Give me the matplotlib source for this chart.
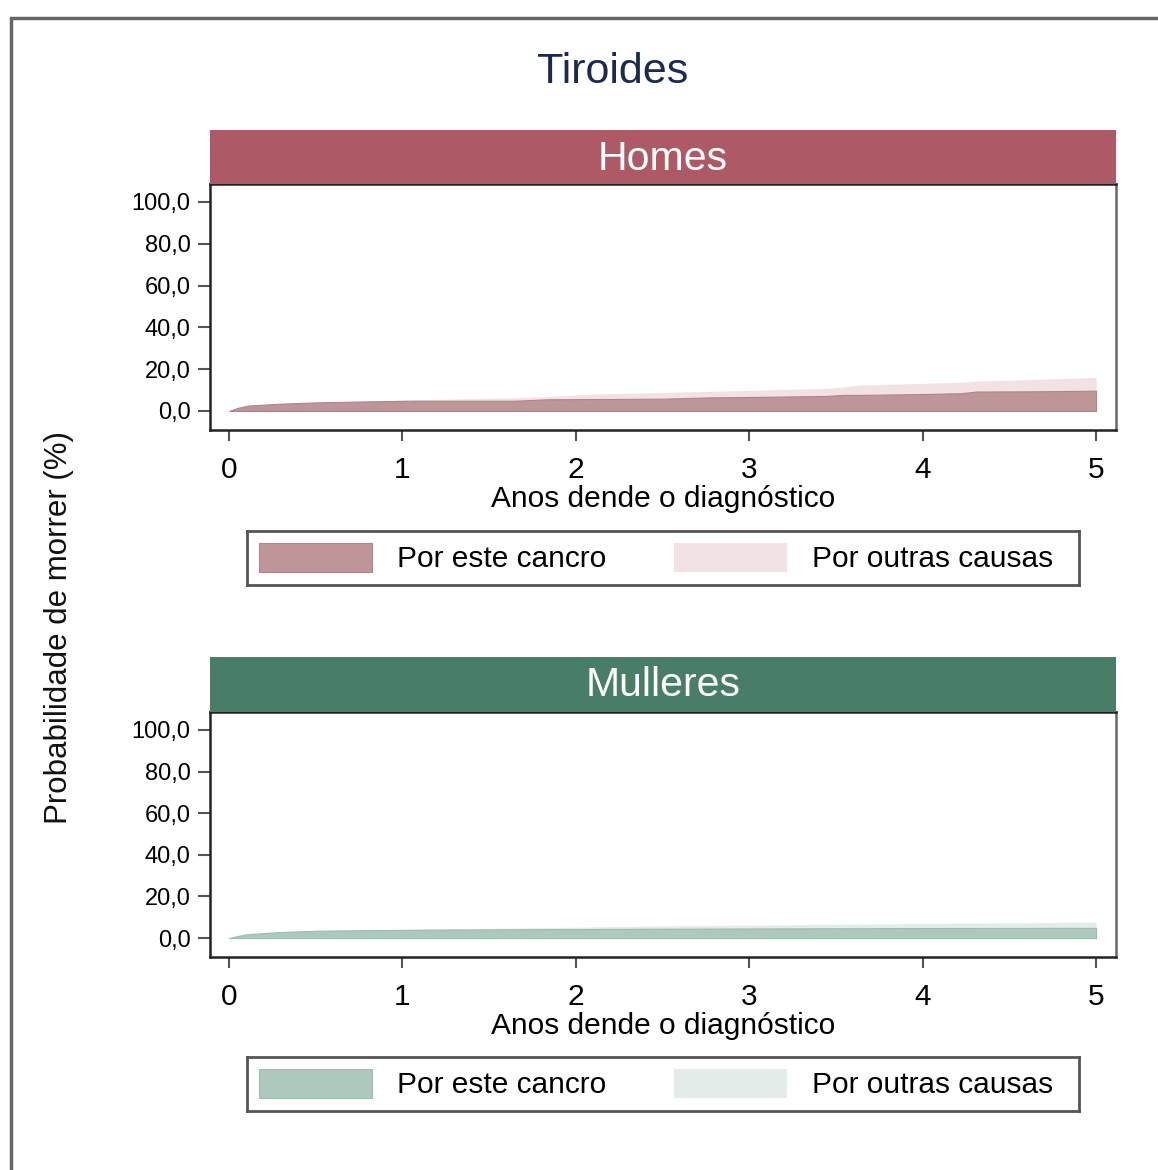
import matplotlib
matplotlib.use("Agg")
import matplotlib.pyplot as plt
from matplotlib.patches import Rectangle

plt.rcParams['font.family'] = ['Liberation Sans', 'DejaVu Sans']

# ---- data ----
title = "Tiroides"
panels = ["Homes", "Mulleres"]
x_label = "Anos dende o diagnóstico"
y_label = "Probabilidade de morrer (%)"
legend_labels = ["Por este cancro", "Por outras causas"]
y_ticks = [0, 20, 40, 60, 80, 100]
y_tick_labels = ["0,0", "20,0", "40,0", "60,0", "80,0", "100,0"]
x_ticks = [0, 1, 2, 3, 4, 5]

homes_t = [0.0, 0.05, 0.11, 0.3, 0.5, 0.8, 1.07, 1.65, 1.84, 2.1, 2.51, 2.77, 3.1, 3.45, 3.54, 3.64, 4.0, 4.22, 4.31, 4.6, 5.0]
homes_cancer = [0.0, 1.5, 2.6, 3.5, 4.1, 4.6, 4.9, 4.9, 5.6, 5.7, 5.9, 6.5, 6.8, 7.2, 7.7, 7.7, 8.1, 8.5, 9.3, 9.4, 9.7]
homes_total = [0.0, 1.5, 2.6, 3.5, 4.1, 4.7, 5.4, 6.3, 6.9, 8.1, 8.9, 9.4, 10.1, 10.8, 11.5, 12.4, 13.2, 13.8, 14.3, 15.0, 16.1]

mull_t = [0.0, 0.05, 0.11, 0.3, 0.5, 0.8, 1.26, 2.0, 2.51, 3.0, 3.5, 4.0, 4.5, 5.0]
mull_cancer = [0.0, 1.0, 1.9, 2.9, 3.5, 3.8, 4.1, 4.3, 4.5, 4.6, 4.7, 4.8, 4.85, 4.9]
mull_total = [0.0, 1.0, 1.9, 3.0, 3.7, 4.0, 4.4, 5.2, 5.9, 6.2, 6.6, 7.0, 7.3, 7.7]

strip_colors = ["#AD5A66", "#487D67"]
dark_colors = ["#BE9599", "#ADC8BD"]
light_colors = ["#F2E2E3", "#E3ECE8"]
edge_colors = ["#B0858A", "#9DBBAF"]

W, H = 1158, 1170
fig = plt.figure(figsize=(W / 100, H / 100), dpi=100)

def fx(px):
    return px / W

def fy(py):
    return 1 - py / H

# outer border
fig.patches.append(Rectangle((fx(11), fy(1190)), fx(1200) - fx(11), fy(18) - fy(1190),
                             transform=fig.transFigure, fill=False, edgecolor="#666666", lw=2.5))

fig.text(fx(613), fy(72), title, ha="center", va="center", fontsize=31, color="#1C2A4E")

fig.text(fx(59), fy(628), y_label, ha="center", va="center", rotation=90, fontsize=22.5, color="#111111")

series = [(homes_t, homes_cancer, homes_total), (mull_t, mull_cancer, mull_total)]
ax_tops = [184, 712]
ax_bots = [430, 957]
strip_tops = [130, 657]
leg_tops = [531, 1057]

for i in range(2):
    t, c, tot = series[i]
    ax = fig.add_axes([fx(210), fy(ax_bots[i]), fx(1116) - fx(210), fy(ax_tops[i]) - fy(ax_bots[i])])
    ax.fill_between(t, c, tot, color=light_colors[i], lw=0)
    ax.fill_between(t, 0, c, facecolor=dark_colors[i], edgecolor=edge_colors[i], lw=0.8)
    ax.set_xlim(-0.11, 5.115)
    ax.set_ylim(-9.1, 108.6)
    ax.set_xticks(x_ticks)
    ax.set_xticklabels([str(v) for v in x_ticks], fontsize=21.5)
    ax.set_yticks(y_ticks)
    ax.set_yticklabels(y_tick_labels, fontsize=17)
    ax.tick_params(axis="x", length=8, width=1.5, color="#555555", pad=11)
    ax.tick_params(axis="y", length=9, width=1.5, color="#555555", pad=5)
    for s in ax.spines.values():
        s.set_linewidth(1.8)
        s.set_color("#222222")
    ax.spines["right"].set_color("#666666")
    ax.set_xlabel(x_label, fontsize=21.5, labelpad=0.5)
    # strip
    sax = fig.add_axes([fx(210), fy(ax_tops[i]), fx(1116) - fx(210), fy(strip_tops[i]) - fy(ax_tops[i])])
    sax.set_facecolor(strip_colors[i])
    sax.set_xticks([]); sax.set_yticks([])
    for s in sax.spines.values():
        s.set_visible(False)
    sax.text(0.5, 0.47 if i == 0 else 0.5, panels[i], ha="center", va="center", fontsize=29.5,
             color="white", transform=sax.transAxes)
    # legend box
    lt = leg_tops[i]
    lax = fig.add_axes([fx(247), fy(lt + 54), fx(1079) - fx(247), fy(lt) - fy(lt + 54)])
    lax.set_xlim(247, 1079)
    lax.set_ylim(lt + 54, lt)
    lax.set_xticks([]); lax.set_yticks([])
    for s in lax.spines.values():
        s.set_linewidth(2)
        s.set_color("#555555")
    lax.add_patch(Rectangle((259, lt + 12), 113, 29, facecolor=dark_colors[i], edgecolor=edge_colors[i], lw=0.8))
    lax.add_patch(Rectangle((674, lt + 12), 113, 29, facecolor=light_colors[i], edgecolor="none"))
    lax.text(397, lt + 28, legend_labels[0], ha="left", va="center", fontsize=21.5)
    lax.text(812, lt + 28, legend_labels[1], ha="left", va="center", fontsize=21.5)

fig.savefig("out.png", dpi=100)
